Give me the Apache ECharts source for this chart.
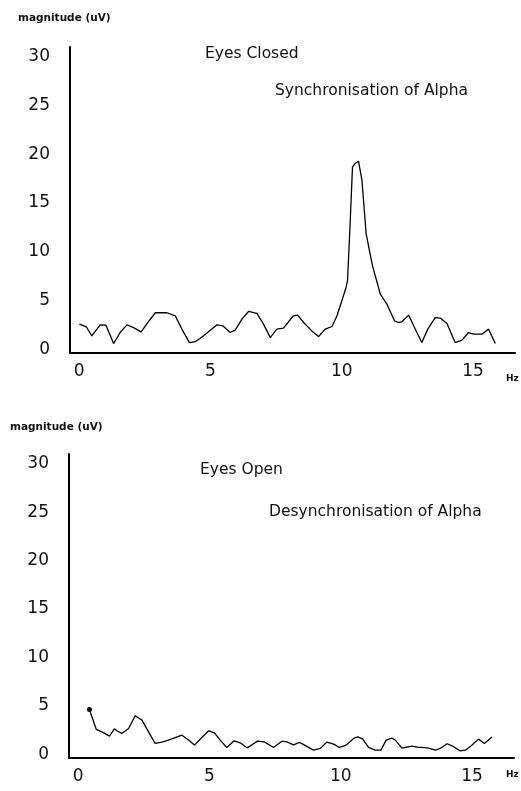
<!DOCTYPE html>
<html>
<head>
<meta charset="utf-8">
<script src="https://cdn.jsdelivr.net/npm/echarts@6/dist/echarts.min.js"></script>
<style>
  html, body { margin: 0; padding: 0; background: #fff; }
  #chart { width: 521px; height: 791px; }
</style>
</head>
<body>
<div id="chart"></div>
<script>
// frequency (Hz) / magnitude (uV) pairs
var closedHz = [0.01, 0.27, 0.48, 0.80, 1.02, 1.31, 1.56, 1.82, 2.07, 2.36, 2.64, 2.90, 3.34, 3.66, 3.91,
    4.20, 4.44, 4.74, 5.25, 5.47, 5.75, 5.94, 6.20, 6.45, 6.77, 7.02, 7.28, 7.53, 7.78, 8.16, 8.32,
    8.55, 8.86, 9.12, 9.37, 9.63, 9.82, 10.16, 10.22, 10.32, 10.41, 10.51, 10.64, 10.70, 10.77, 10.93,
    11.17, 11.47, 11.72, 12.01, 12.16, 12.29, 12.55, 12.74, 13.05, 13.28, 13.56, 13.75, 14.01, 14.32,
    14.58, 14.83, 15.02, 15.34, 15.59, 15.85];
var closedMag = [2.56, 2.29, 1.36, 2.49, 2.46, 0.57, 1.70, 2.49, 2.21, 1.77, 2.83, 3.73, 3.73, 3.42, 2.05,
    0.67, 0.77, 1.36, 2.49, 2.39, 1.70, 1.94, 3.08, 3.86, 3.66, 2.56, 1.18, 2.05, 2.15, 3.42, 3.49,
    2.73, 1.87, 1.29, 2.05, 2.32, 3.42, 6.27, 7.02, 12.86, 18.69, 19.04, 19.28, 19.21, 17.32, 11.83,
    8.57, 5.65, 4.62, 2.90, 2.73, 2.80, 3.49, 2.39, 0.67, 2.05, 3.24, 3.18, 2.63, 0.67,
    0.92, 1.70, 1.53, 1.53, 2.05, 0.57];

var openHz = [0.43, 0.48, 0.69, 0.90, 1.19, 1.38, 1.47, 1.66, 1.92, 2.17, 2.43, 2.68, 2.93, 3.19, 3.44,
    3.95, 4.20, 4.43, 4.71, 4.97, 5.19, 5.41, 5.66, 5.94, 6.17, 6.43, 6.62, 6.83, 7.09, 7.44, 7.76,
    7.95, 8.20, 8.43, 8.69, 8.96, 9.22, 9.47, 9.73, 9.95, 10.21, 10.49, 10.65, 10.83, 11.06, 11.31,
    11.53, 11.73, 11.95, 12.08, 12.33, 12.71, 12.96, 13.09, 13.35, 13.60, 13.79, 14.05, 14.24, 14.55,
    14.74, 14.96, 15.25, 15.47, 15.76];
var openMag = [4.62, 4.20, 2.55, 2.30, 1.86, 2.61, 2.41, 2.14, 2.65, 3.96, 3.51, 2.30, 1.11, 1.24, 1.45,
    1.96, 1.45, 0.93, 1.72, 2.41, 2.20, 1.45, 0.69, 1.38, 1.17, 0.65, 0.96, 1.34, 1.27, 0.69, 1.34,
    1.27, 0.96, 1.21, 0.83, 0.41, 0.59, 1.24, 1.03, 0.69, 0.93, 1.62, 1.79, 1.58, 0.69, 0.41,
    0.41, 1.45, 1.65, 1.45, 0.62, 0.83, 0.69, 0.69, 0.62, 0.41, 0.59, 1.07, 0.86, 0.34,
    0.41, 0.83, 1.55, 1.10, 1.76];

var xTicks = [0, 5, 10, 15];
var yTicks = [0, 5, 10, 15, 20, 25, 30];

function pairs(xs, ys) {
    var out = [];
    for (var i = 0; i < xs.length; i++) {
        out.push([xs[i], ys[i]]);
    }
    return out;
}

var openData = pairs(openHz, openMag);
// the eyes-open trace starts with a small blob
openData[0] = { value: openData[0], symbol: 'circle', symbolSize: 5 };

function xAxisFor(gridIndex) {
    return {
        gridIndex: gridIndex,
        type: 'value',
        min: -0.35,
        max: 16.6,
        splitLine: { show: false },
        axisTick: { show: false },
        axisLine: { onZero: false, lineStyle: { color: '#000', width: 2 } },
        axisLabel: {
            customValues: xTicks,
            color: '#111',
            fontFamily: 'DejaVu Sans',
            fontSize: 17,
            margin: 10
        }
    };
}

function yAxisFor(gridIndex) {
    return {
        gridIndex: gridIndex,
        type: 'value',
        min: -0.4,
        max: 31,
        splitLine: { show: false },
        axisTick: { show: false },
        axisLine: { show: true, onZero: false, lineStyle: { color: '#000', width: 2 } },
        axisLabel: {
            customValues: yTicks,
            color: '#111',
            fontFamily: 'DejaVu Sans',
            fontSize: 17,
            margin: 20
        }
    };
}

function note(x, y, text, size, weight) {
    return {
        type: 'text',
        left: x,
        top: y,
        style: {
            text: text,
            fill: '#111',
            font: (weight || 'normal') + ' ' + size + 'px "DejaVu Sans"'
        }
    };
}

var chart = echarts.init(document.getElementById('chart'));
chart.setOption({
    backgroundColor: '#fff',
    animation: false,
    grid: [
        { left: 70, top: 47, width: 445, height: 306 },
        { left: 69, top: 454, width: 445, height: 304 }
    ],
    xAxis: [xAxisFor(0), xAxisFor(1)],
    yAxis: [yAxisFor(0), yAxisFor(1)],
    graphic: [
        note(18, 13, 'magnitude (uV)', 10.5, 'bold'),
        note(205, 46, 'Eyes Closed', 15.5),
        note(275, 83, 'Synchronisation of Alpha', 15.5),
        note(506, 374, 'Hz', 9, 'bold'),
        note(10, 422, 'magnitude (uV)', 10.5, 'bold'),
        note(200, 462, 'Eyes Open', 15.5),
        note(269, 504, 'Desynchronisation of Alpha', 15.5),
        note(506, 770, 'Hz', 9, 'bold')
    ],
    series: [
        {
            type: 'line',
            xAxisIndex: 0,
            yAxisIndex: 0,
            data: pairs(closedHz, closedMag),
            symbol: 'none',
            lineStyle: { color: '#000', width: 1.3 }
        },
        {
            type: 'line',
            xAxisIndex: 1,
            yAxisIndex: 1,
            data: openData,
            symbol: 'none',
            itemStyle: { color: '#000' },
            lineStyle: { color: '#000', width: 1.3 }
        }
    ]
});
</script>
</body>
</html>
